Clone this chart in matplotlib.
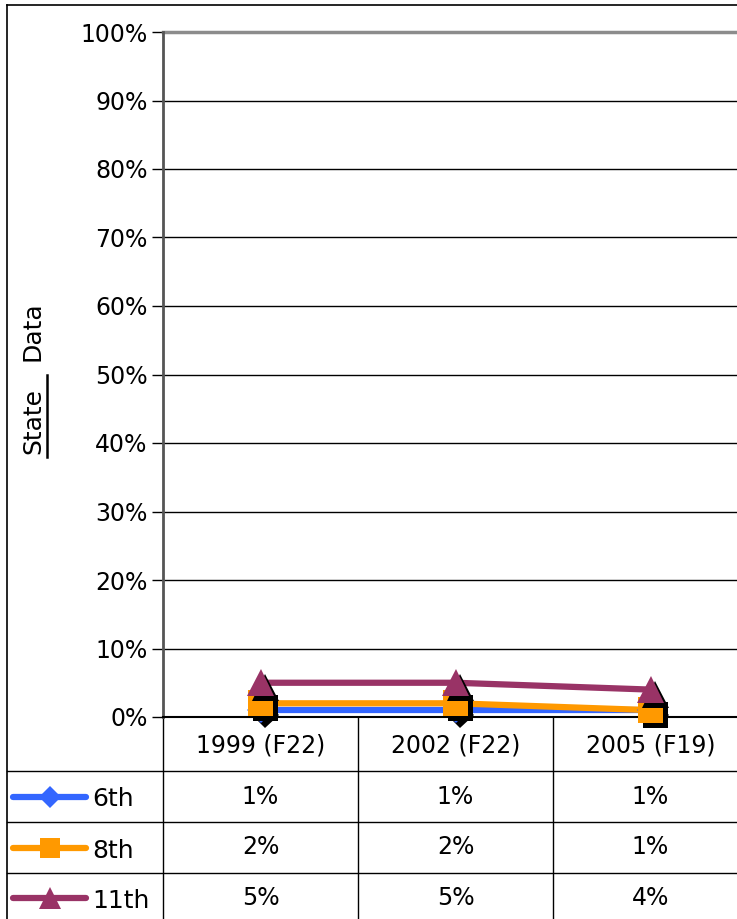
import matplotlib
matplotlib.use("Agg")
import matplotlib.pyplot as plt
import matplotlib.patheffects as pe

# data
categories = ["1999 (F22)", "2002 (F22)", "2005 (F19)"]
series_names = ["6th", "8th", "11th"]
values_6th = [1, 1, 1]
values_8th = [2, 2, 1]
values_11th = [5, 5, 4]
colors = ["#3366FF", "#FF9900", "#993366"]
markers = ["D", "s", "^"]
yticks = [0, 10, 20, 30, 40, 50, 60, 70, 80, 90, 100]

all_values = [values_6th, values_8th, values_11th]

W, H = 737, 919
fig = plt.figure(figsize=(W / 100, H / 100), dpi=100)
plt.rcParams['font.family'] = ['DejaVu Sans']
fs = 17

# plot area in pixels
left, top, bottom = 163, 32, 717
col_w = 195
right = left + 3 * col_w
ax = fig.add_axes([left / W, 1 - bottom / H, (right - left) / W, (bottom - top) / H])
ax.set_xlim(-0.5, 2.5)
ax.set_ylim(0, 100)
ax.set_yticks(yticks)
ax.set_yticklabels([f"{t}%" for t in yticks], fontsize=fs)
ax.set_xticks([])
ax.tick_params(axis='y', direction='out', length=8, width=1, color='black', pad=3)
ax.yaxis.grid(True, color='black', linewidth=1)
ax.set_axisbelow(True)
for s in ['top', 'right']:
    ax.spines[s].set_visible(False)
ax.spines['left'].set_color('#555555')
ax.spines['left'].set_linewidth(2)
ax.spines['bottom'].set_color('black')
ax.spines['bottom'].set_linewidth(1.5)
ax.axhline(100, color='#8c8c8c', linewidth=2.5, clip_on=False, zorder=1)

x = list(range(len(categories)))
sizes = {"D": 13.5, "s": 18.5, "^": 19.5}
for vals, c, m in zip(all_values, colors, markers):
    ax.plot(x, vals, color=c, linewidth=4.5, solid_capstyle='butt', zorder=3, clip_on=False)
    ax.plot(x, vals, linestyle='none', marker=m, markersize=sizes[m], color=c,
            markeredgewidth=0, zorder=4, clip_on=False,
            path_effects=[pe.SimplePatchShadow(offset=(3.5, -3.5), shadow_rgbFace='black', alpha=1),
                          pe.Normal()])

# table overlay in pixel coords
tab = fig.add_axes([0, 0, 1, 1], zorder=-1)
tab.set_xlim(0, W)
tab.set_ylim(H, 0)
tab.axis('off')

rows_y = [717, 771, 822, 873, 924]
tab.plot([7, 7], [5, H], color='black', linewidth=1.2)
tab.plot([7, W], [5, 5], color='black', linewidth=1.2)
for yy in rows_y[1:-1]:
    tab.plot([7, W], [yy, yy], color='black', linewidth=1)
for i in range(len(categories) + 1):
    xx = left + i * col_w
    tab.plot([xx, xx], [bottom, H], color='black', linewidth=1)

for i, cat in enumerate(categories):
    tab.text(left + (i + 0.5) * col_w, (rows_y[0] + rows_y[1]) / 2 + 2, cat,
             ha='center', va='center', fontsize=fs)

leg_sizes = {"D": 11, "s": 15, "^": 16}
for r, (name, vals, c, m) in enumerate(zip(series_names, all_values, colors, markers)):
    yc = (rows_y[r + 1] + rows_y[r + 2]) / 2
    if r == 2:
        yc = rows_y[3] + 25
    tab.plot([13, 86], [yc, yc], color=c, linewidth=4.5, solid_capstyle='round')
    tab.plot([50], [yc], marker=m, markersize=leg_sizes[m], color=c, markeredgewidth=0)
    tab.text(92, yc + 3, name, ha='left', va='center', fontsize=fs + 1)
    for i, v in enumerate(vals):
        tab.text(left + (i + 0.5) * col_w, yc, f"{v}%", ha='center', va='center', fontsize=fs)

# y label: "State" underlined, then "Data"
tab.text(33, 421, "State", rotation=90, ha='center', va='center', fontsize=18)
tab.plot([47, 47], [375, 457], color='black', linewidth=1.8)
tab.text(33, 331, "Data", rotation=90, ha='center', va='center', fontsize=18)

fig.savefig("out.png", dpi=100)
